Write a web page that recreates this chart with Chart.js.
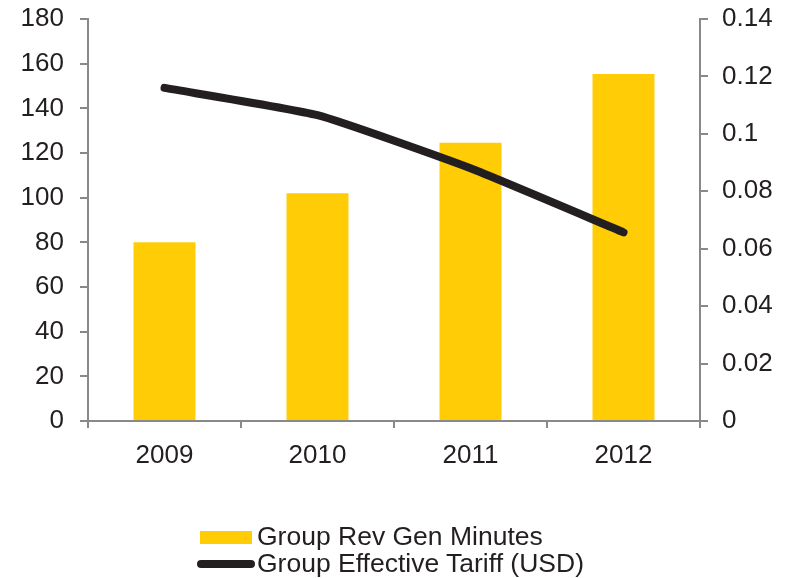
<!DOCTYPE html>
<html>
<head>
<meta charset="utf-8">
<script src="https://cdn.jsdelivr.net/npm/chart.js@4.4.0/dist/chart.umd.min.js"></script>
<style>
    html, body { margin: 0; padding: 0; background: #fff; }
    #wrap { position: relative; width: 789px; height: 578px; }
    #legend { position: absolute; left: 197px; top: 523px; font-family: 'Liberation Sans', Arial, sans-serif; font-size: 26.5px; color: #231f20; }
    .item { display: flex; align-items: center; height: 27px; }
    .sym { width: 60px; height: 27px; position: relative; }
    .box { position: absolute; left: 3px; top: 8px; width: 52px; height: 13px; background: #ffcc05; }
    .ln { position: absolute; left: 0px; top: 10px; width: 58px; height: 8px; border-radius: 4px; background: #231f20; }
</style>
</head>
<body>
<div id="wrap">
    <canvas id="chart" width="789" height="578"></canvas>
    <div id="legend"></div>
</div>
<script>
// values
const years = ['2009', '2010', '2011', '2012'];
const rev_gen_minutes = [80, 102, 124.6, 155.4];
const effective_tariff = [0.116, 0.1065, 0.088, 0.0657];
const series_names = ['Group Rev Gen Minutes', 'Group Effective Tariff (USD)'];

const axis_grey = '#898989';
const text_color = '#231f20';

Chart.defaults.font.family = "'Liberation Sans', Arial, sans-serif";
Chart.defaults.font.size = 26;
Chart.defaults.color = text_color;

document.addEventListener('DOMContentLoaded', function() {
    DrawChart();
    DrawLegend();
})

// pin the axis widths and drop the extra label padding so the plot box sits where it does in the reference
function FitY(width) {
    return function(scale) {
        scale.width = width;
        scale.paddingTop = 0;
        scale.paddingBottom = 0;
    };
}

function DrawChart() {
    new Chart(document.getElementById('chart'), {
        type: 'bar',
        data: {
            labels: years,
            datasets: [{
                type: 'line',
                label: series_names[1],
                data: effective_tariff,
                yAxisID: 'y1',
                borderColor: text_color,
                backgroundColor: text_color,
                borderWidth: 8,
                borderCapStyle: 'round',
                borderJoinStyle: 'round',
                tension: 0.15,
                pointRadius: 0,
                order: 0
            }, {
                label: series_names[0],
                data: rev_gen_minutes,
                yAxisID: 'y',
                backgroundColor: '#ffcc05',
                barPercentage: 0.405,
                categoryPercentage: 1,
                order: 1
            }]
        },
        options: {
            responsive: false,
            animation: false,
            layout: { padding: { top: 19, left: 0, right: 0, bottom: 107 } },
            plugins: {
                legend: { display: false },
                tooltip: { enabled: false }
            },
            scales: {
                x: {
                    grid: { drawOnChartArea: false, drawTicks: true, tickLength: 7, color: axis_grey, lineWidth: 2 },
                    border: { color: axis_grey, width: 2 },
                    ticks: { padding: 12 },
                    afterFit: function(scale) { scale.height = 50; }
                },
                y: {
                    position: 'left',
                    min: 0,
                    max: 180,
                    ticks: { stepSize: 20, padding: 16 },
                    grid: { drawOnChartArea: false, drawTicks: true, tickLength: 8, color: axis_grey, lineWidth: 2 },
                    border: { color: axis_grey, width: 2 },
                    afterFit: FitY(88)
                },
                y1: {
                    position: 'right',
                    min: 0,
                    max: 0.14,
                    ticks: {
                        stepSize: 0.02,
                        padding: 14,
                        callback: function(v) { return String(+v.toFixed(2)); }
                    },
                    grid: { drawOnChartArea: false, drawTicks: true, tickLength: 8, color: axis_grey, lineWidth: 2 },
                    border: { color: axis_grey, width: 2 },
                    afterFit: FitY(89)
                }
            }
        }
    })
}

// legend is stacked and left aligned in the reference, so build it in html
function DrawLegend() {
    const legend = document.getElementById('legend');
    const symbols = ['box', 'ln'];
    for (let i = 0; i < series_names.length; i++) {
        const item = document.createElement('div');
        item.className = 'item';
        const sym = document.createElement('div');
        sym.className = 'sym';
        const mark = document.createElement('div');
        mark.className = symbols[i];
        sym.appendChild(mark);
        const label = document.createElement('span');
        label.innerHTML = series_names[i];
        item.appendChild(sym);
        item.appendChild(label);
        legend.appendChild(item);
    }
}
</script>
</body>
</html>
